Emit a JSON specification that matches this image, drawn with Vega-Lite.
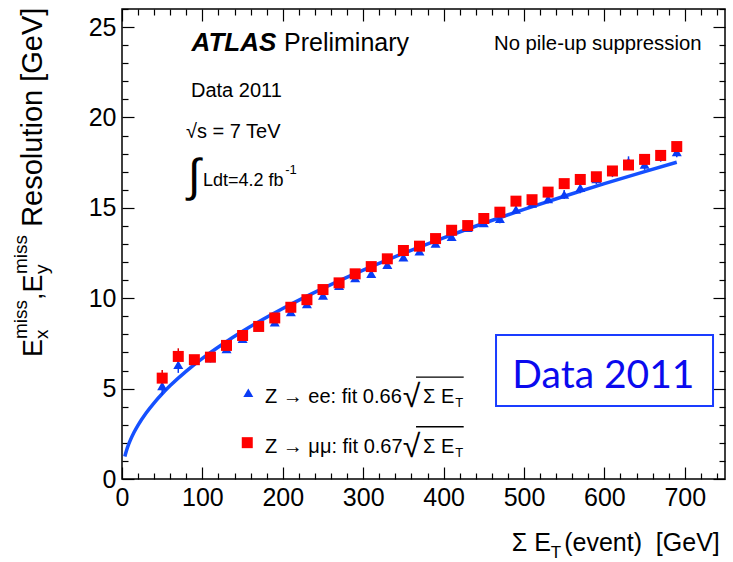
{
  "$schema": "https://vega.github.io/schema/vega-lite/v6.json",
  "width": 603,
  "height": 470,
  "autosize": {"type": "none"},
  "padding": {"left": 122, "top": 9, "right": 8, "bottom": 83},
  "background": "white",
  "config": {
    "view": {"stroke": "black", "strokeWidth": 1.5},
    "axis": {"labelFont": "Liberation Sans", "labelColor": "black", "tickColor": "black", "grid": false, "domain": false, "title": null, "tickWidth": 1.2},
    "text": {"font": "Liberation Sans", "color": "black", "baseline": "alphabetic", "align": "left"}
  },
  "datasets": {
    "fit": [
      {"x": 3.5, "fit": 1.248}, {"x": 6, "fit": 1.634}, {"x": 8, "fit": 1.887}, {"x": 10, "fit": 2.109},
      {"x": 15, "fit": 2.583}, {"x": 20, "fit": 2.983}, {"x": 30, "fit": 3.653}, {"x": 40, "fit": 4.218},
      {"x": 50, "fit": 4.716}, {"x": 60, "fit": 5.167}, {"x": 80, "fit": 5.966}, {"x": 100, "fit": 6.67},
      {"x": 125, "fit": 7.457}, {"x": 150, "fit": 8.169}, {"x": 175, "fit": 8.824}, {"x": 200, "fit": 9.433},
      {"x": 250, "fit": 10.546}, {"x": 300, "fit": 11.553}, {"x": 350, "fit": 12.479}, {"x": 400, "fit": 13.34},
      {"x": 450, "fit": 14.149}, {"x": 500, "fit": 14.915}, {"x": 550, "fit": 15.643}, {"x": 600, "fit": 16.338},
      {"x": 650, "fit": 17.005}, {"x": 690, "fit": 17.521}
    ],
    "ee": [
      {"x": 50, "y": 5.15, "err": 0.5}, {"x": 70, "y": 6.32, "err": 0.45}, {"x": 90, "y": 6.55, "err": 0.3},
      {"x": 110, "y": 6.7, "err": 0.25}, {"x": 130, "y": 7.2, "err": 0.2}, {"x": 150, "y": 7.76, "err": 0.2},
      {"x": 170, "y": 8.4, "err": 0.2}, {"x": 190, "y": 8.67, "err": 0.2}, {"x": 210, "y": 9.24, "err": 0.2},
      {"x": 230, "y": 9.68, "err": 0.2}, {"x": 250, "y": 10.16, "err": 0.2}, {"x": 270, "y": 10.7, "err": 0.2},
      {"x": 290, "y": 11.12, "err": 0.2}, {"x": 310, "y": 11.36, "err": 0.2}, {"x": 330, "y": 11.86, "err": 0.2},
      {"x": 350, "y": 12.27, "err": 0.2}, {"x": 370, "y": 12.6, "err": 0.2}, {"x": 390, "y": 13.03, "err": 0.2},
      {"x": 410, "y": 13.4, "err": 0.2}, {"x": 430, "y": 13.9, "err": 0.2}, {"x": 450, "y": 14.17, "err": 0.2},
      {"x": 470, "y": 14.4, "err": 0.25}, {"x": 490, "y": 14.91, "err": 0.25}, {"x": 510, "y": 15.25, "err": 0.25},
      {"x": 530, "y": 15.5, "err": 0.25}, {"x": 550, "y": 15.74, "err": 0.25}, {"x": 570, "y": 16.11, "err": 0.3},
      {"x": 590, "y": 16.6, "err": 0.3}, {"x": 610, "y": 17.0, "err": 0.3}, {"x": 630, "y": 17.55, "err": 0.3},
      {"x": 650, "y": 17.4, "err": 0.3}, {"x": 670, "y": 17.85, "err": 0.3}, {"x": 690, "y": 18.1, "err": 0.3}
    ],
    "mm": [
      {"x": 50, "y": 5.58, "err": 0.45}, {"x": 70, "y": 6.78, "err": 0.45}, {"x": 90, "y": 6.6, "err": 0.25},
      {"x": 110, "y": 6.74, "err": 0.2}, {"x": 130, "y": 7.39, "err": 0.2}, {"x": 150, "y": 7.94, "err": 0.2},
      {"x": 170, "y": 8.44, "err": 0.2}, {"x": 190, "y": 8.91, "err": 0.2}, {"x": 210, "y": 9.5, "err": 0.2},
      {"x": 230, "y": 9.92, "err": 0.2}, {"x": 250, "y": 10.48, "err": 0.2}, {"x": 270, "y": 10.85, "err": 0.2},
      {"x": 290, "y": 11.35, "err": 0.2}, {"x": 310, "y": 11.75, "err": 0.2}, {"x": 330, "y": 12.18, "err": 0.2},
      {"x": 350, "y": 12.64, "err": 0.2}, {"x": 370, "y": 12.88, "err": 0.2}, {"x": 390, "y": 13.3, "err": 0.2},
      {"x": 410, "y": 13.76, "err": 0.2}, {"x": 430, "y": 14.02, "err": 0.2}, {"x": 450, "y": 14.41, "err": 0.2},
      {"x": 470, "y": 14.76, "err": 0.2}, {"x": 490, "y": 15.37, "err": 0.2}, {"x": 510, "y": 15.45, "err": 0.2},
      {"x": 530, "y": 15.87, "err": 0.2}, {"x": 550, "y": 16.34, "err": 0.2}, {"x": 570, "y": 16.57, "err": 0.2},
      {"x": 590, "y": 16.72, "err": 0.2}, {"x": 610, "y": 17.04, "err": 0.2}, {"x": 630, "y": 17.37, "err": 0.2},
      {"x": 650, "y": 17.68, "err": 0.2}, {"x": 670, "y": 17.9, "err": 0.2}, {"x": 690, "y": 18.39, "err": 0.2}
    ]
  },
  "resolve": {"axis": {"x": "independent", "y": "independent"}},
  "layer": [
    {
      "data": {"name": "fit"},
      "mark": {"type": "line", "strokeOpacity": 0},
      "encoding": {
        "x": {"field": "x", "type": "quantitative", "scale": {"domain": [0, 750], "nice": false, "zero": false},
              "axis": {"orient": "bottom", "values": [0, 100, 200, 300, 400, 500, 600, 700], "ticks": false, "labelFontSize": 25, "labelPadding": 6, "labelFlush": false}},
        "y": {"field": "fit", "type": "quantitative", "scale": {"domain": [0, 26], "nice": false, "zero": false},
              "axis": {"orient": "left", "values": [0, 5, 10, 15, 20, 25], "ticks": false, "labelFontSize": 25, "labelPadding": 6, "labelFlush": false}}
      }
    },
    {
      "data": {"name": "fit"},
      "mark": {"type": "line", "strokeOpacity": 0},
      "encoding": {
        "x": {"field": "x", "type": "quantitative", "axis": {"orient": "bottom", "values": [0, 100, 200, 300, 400, 500, 600, 700], "labels": false, "tickSize": -12}},
        "y": {"field": "fit", "type": "quantitative", "axis": {"orient": "left", "values": [0, 5, 10, 15, 20, 25], "labels": false, "tickSize": -12}}
      }
    },
    {
      "data": {"name": "fit"},
      "mark": {"type": "line", "strokeOpacity": 0},
      "encoding": {
        "x": {"field": "x", "type": "quantitative", "axis": {"orient": "bottom", "values": [20, 40, 60, 80, 120, 140, 160, 180, 220, 240, 260, 280, 320, 340, 360, 380, 420, 440, 460, 480, 520, 540, 560, 580, 620, 640, 660, 680, 720, 740], "labels": false, "tickSize": -6}},
        "y": {"field": "fit", "type": "quantitative", "axis": {"orient": "left", "values": [1, 2, 3, 4, 6, 7, 8, 9, 11, 12, 13, 14, 16, 17, 18, 19, 21, 22, 23, 24, 26], "labels": false, "tickSize": -6}}
      }
    },
    {
      "data": {"name": "fit"},
      "mark": {"type": "line", "strokeOpacity": 0},
      "encoding": {
        "x": {"field": "x", "type": "quantitative", "axis": {"orient": "top", "values": [0, 100, 200, 300, 400, 500, 600, 700], "labels": false, "tickSize": -12}},
        "y": {"field": "fit", "type": "quantitative", "axis": {"orient": "right", "values": [0, 5, 10, 15, 20, 25], "labels": false, "tickSize": -12}}
      }
    },
    {
      "data": {"name": "fit"},
      "mark": {"type": "line", "strokeOpacity": 0},
      "encoding": {
        "x": {"field": "x", "type": "quantitative", "axis": {"orient": "top", "values": [20, 40, 60, 80, 120, 140, 160, 180, 220, 240, 260, 280, 320, 340, 360, 380, 420, 440, 460, 480, 520, 540, 560, 580, 620, 640, 660, 680, 720, 740], "labels": false, "tickSize": -6}},
        "y": {"field": "fit", "type": "quantitative", "axis": {"orient": "right", "values": [1, 2, 3, 4, 6, 7, 8, 9, 11, 12, 13, 14, 16, 17, 18, 19, 21, 22, 23, 24, 26], "labels": false, "tickSize": -6}}
      }
    },
    {
      "data": {"name": "fit"},
      "mark": {"type": "line", "color": "#1550ff", "strokeWidth": 3.5, "interpolate": "monotone"},
      "encoding": {
        "x": {"field": "x", "type": "quantitative", "axis": null},
        "y": {"field": "fit", "type": "quantitative", "axis": null}
      }
    },
    {
      "data": {"name": "ee"},
      "mark": {"type": "errorbar", "color": "#0a3cf5", "rule": {"strokeWidth": 1.5}},
      "encoding": {
        "x": {"field": "x", "type": "quantitative", "axis": null},
        "y": {"field": "y", "type": "quantitative", "axis": null},
        "yError": {"field": "err"}
      }
    },
    {
      "data": {"name": "mm"},
      "mark": {"type": "errorbar", "color": "#e00000", "rule": {"strokeWidth": 1.5}},
      "encoding": {
        "x": {"field": "x", "type": "quantitative", "axis": null},
        "y": {"field": "y", "type": "quantitative", "axis": null},
        "yError": {"field": "err"}
      }
    },
    {
      "data": {"name": "ee"},
      "mark": {"type": "point", "shape": "triangle-up", "filled": true, "color": "#0a3cf5", "size": 100, "opacity": 1},
      "encoding": {
        "x": {"field": "x", "type": "quantitative", "axis": null},
        "y": {"field": "y", "type": "quantitative", "axis": null}
      }
    },
    {
      "data": {"name": "mm"},
      "mark": {"type": "point", "shape": "square", "filled": true, "color": "#ff0000", "size": 121, "opacity": 1},
      "encoding": {
        "x": {"field": "x", "type": "quantitative", "axis": null},
        "y": {"field": "y", "type": "quantitative", "axis": null}
      }
    },
    {
      "data": {"values": [{"t": "ATLAS"}]},
      "mark": {"type": "text", "fontSize": 26, "fontWeight": "bold", "fontStyle": "italic"},
      "encoding": {"text": {"field": "t"}, "x": {"datum": 86.5, "type": "quantitative", "axis": null}, "y": {"datum": 23.68, "type": "quantitative", "axis": null}}
    },
    {
      "data": {"values": [{"t": "Preliminary"}]},
      "mark": {"type": "text", "fontSize": 25},
      "encoding": {"text": {"field": "t"}, "x": {"datum": 201.5, "type": "quantitative", "axis": null}, "y": {"datum": 23.68, "type": "quantitative", "axis": null}}
    },
    {
      "data": {"values": [{"t": "No pile-up suppression"}]},
      "mark": {"type": "text", "fontSize": 20.3},
      "encoding": {"text": {"field": "t"}, "x": {"datum": 462.7, "type": "quantitative", "axis": null}, "y": {"datum": 23.73, "type": "quantitative", "axis": null}}
    },
    {
      "data": {"values": [{"t": "Data 2011"}]},
      "mark": {"type": "text", "fontSize": 20},
      "encoding": {"text": {"field": "t"}, "x": {"datum": 85.8, "type": "quantitative", "axis": null}, "y": {"datum": 21.13, "type": "quantitative", "axis": null}}
    },
    {
      "data": {"values": [{"t": "√s = 7 TeV"}]},
      "mark": {"type": "text", "fontSize": 20},
      "encoding": {"text": {"field": "t"}, "x": {"datum": 79.6, "type": "quantitative", "axis": null}, "y": {"datum": 18.86, "type": "quantitative", "axis": null}}
    },
    {
      "data": {"values": [{"t": "∫"}]},
      "mark": {"type": "text", "fontSize": 46},
      "encoding": {"text": {"field": "t"}, "x": {"datum": 82.1, "type": "quantitative", "axis": null}, "y": {"datum": 15.93, "type": "quantitative", "axis": null}}
    },
    {
      "data": {"values": [{"t": "Ldt=4.2 fb"}]},
      "mark": {"type": "text", "fontSize": 18},
      "encoding": {"text": {"field": "t"}, "x": {"datum": 100.7, "type": "quantitative", "axis": null}, "y": {"datum": 16.21, "type": "quantitative", "axis": null}}
    },
    {
      "data": {"values": [{"t": "-1"}]},
      "mark": {"type": "text", "fontSize": 13},
      "encoding": {"text": {"field": "t"}, "x": {"datum": 203.0, "type": "quantitative", "axis": null}, "y": {"datum": 16.86, "type": "quantitative", "axis": null}}
    },
    {
      "data": {"values": [{"t": "ee"}]},
      "mark": {"type": "point", "shape": "triangle-up", "filled": true, "color": "#0a3cf5", "size": 100, "opacity": 1},
      "encoding": {"x": {"datum": 157.1, "type": "quantitative", "axis": null}, "y": {"datum": 4.77, "type": "quantitative", "axis": null}}
    },
    {
      "data": {"values": [{"t": "mm"}]},
      "mark": {"type": "point", "shape": "square", "filled": true, "color": "#ff0000", "size": 121, "opacity": 1},
      "encoding": {"x": {"datum": 155.8, "type": "quantitative", "axis": null}, "y": {"datum": 2.01, "type": "quantitative", "axis": null}}
    },
    {
      "data": {"values": [{"t": "Z → ee: fit 0.66"}]},
      "mark": {"type": "text", "fontSize": 20},
      "encoding": {"text": {"field": "t"}, "x": {"datum": 177.9, "type": "quantitative", "axis": null}, "y": {"datum": 4.2, "type": "quantitative", "axis": null}}
    },
    {
      "data": {"values": [{"t": "Z → μμ: fit 0.67"}]},
      "mark": {"type": "text", "fontSize": 20},
      "encoding": {"text": {"field": "t"}, "x": {"datum": 177.9, "type": "quantitative", "axis": null}, "y": {"datum": 1.45, "type": "quantitative", "axis": null}}
    },
    {
      "data": {"values": [{"t": "√"}]},
      "mark": {"type": "text", "fontSize": 32},
      "encoding": {"text": {"field": "t"}, "x": {"datum": 349.1, "type": "quantitative", "axis": null}, "y": {"datum": 3.98, "type": "quantitative", "axis": null}}
    },
    {
      "data": {"values": [{"t": "√"}]},
      "mark": {"type": "text", "fontSize": 32},
      "encoding": {"text": {"field": "t"}, "x": {"datum": 349.1, "type": "quantitative", "axis": null}, "y": {"datum": 1.22, "type": "quantitative", "axis": null}}
    },
    {
      "data": {"values": [{"t": "Σ E"}]},
      "mark": {"type": "text", "fontSize": 20},
      "encoding": {"text": {"field": "t"}, "x": {"datum": 374.4, "type": "quantitative", "axis": null}, "y": {"datum": 4.2, "type": "quantitative", "axis": null}}
    },
    {
      "data": {"values": [{"t": "Σ E"}]},
      "mark": {"type": "text", "fontSize": 20},
      "encoding": {"text": {"field": "t"}, "x": {"datum": 374.4, "type": "quantitative", "axis": null}, "y": {"datum": 1.45, "type": "quantitative", "axis": null}}
    },
    {
      "data": {"values": [{"t": "T"}]},
      "mark": {"type": "text", "fontSize": 13},
      "encoding": {"text": {"field": "t"}, "x": {"datum": 414.5, "type": "quantitative", "axis": null}, "y": {"datum": 3.97, "type": "quantitative", "axis": null}}
    },
    {
      "data": {"values": [{"t": "T"}]},
      "mark": {"type": "text", "fontSize": 13},
      "encoding": {"text": {"field": "t"}, "x": {"datum": 414.5, "type": "quantitative", "axis": null}, "y": {"datum": 1.2, "type": "quantitative", "axis": null}}
    },
    {
      "data": {"values": [{"t": "bar"}]},
      "mark": {"type": "rule", "color": "black", "strokeWidth": 1.3},
      "encoding": {"x": {"datum": 365.7, "type": "quantitative", "axis": null}, "x2": {"datum": 425.0}, "y": {"datum": 5.64, "type": "quantitative", "axis": null}}
    },
    {
      "data": {"values": [{"t": "bar"}]},
      "mark": {"type": "rule", "color": "black", "strokeWidth": 1.3},
      "encoding": {"x": {"datum": 365.7, "type": "quantitative", "axis": null}, "x2": {"datum": 425.0}, "y": {"datum": 2.89, "type": "quantitative", "axis": null}}
    },
    {
      "data": {"values": [{"t": "box"}]},
      "mark": {"type": "rect", "fill": "white", "stroke": "#1a3cff", "strokeWidth": 2},
      "encoding": {"x": {"datum": 465.2, "type": "quantitative", "axis": null}, "x2": {"datum": 735.1}, "y": {"datum": 7.97, "type": "quantitative", "axis": null}, "y2": {"datum": 4.04}}
    },
    {
      "data": {"values": [{"t": "Data 2011"}]},
      "mark": {"type": "text", "fontSize": 39, "font": "Lato", "align": "center", "color": "#0a0aee"},
      "encoding": {"text": {"field": "t"}, "x": {"datum": 598.8, "type": "quantitative", "axis": null}, "y": {"datum": 5.03, "type": "quantitative", "axis": null}}
    },
    {
      "data": {"values": [{"t": "Σ E"}]},
      "mark": {"type": "text", "fontSize": 25},
      "encoding": {"text": {"field": "t"}, "x": {"datum": 484.9, "type": "quantitative", "axis": null}, "y": {"datum": -3.98, "type": "quantitative", "axis": null}}
    },
    {
      "data": {"values": [{"t": "T"}]},
      "mark": {"type": "text", "fontSize": 17},
      "encoding": {"text": {"field": "t"}, "x": {"datum": 533.4, "type": "quantitative", "axis": null}, "y": {"datum": -4.37, "type": "quantitative", "axis": null}}
    },
    {
      "data": {"values": [{"t": "(event)\u00a0\u00a0[GeV]"}]},
      "mark": {"type": "text", "fontSize": 25, "align": "right"},
      "encoding": {"text": {"field": "t"}, "x": {"datum": 743.5, "type": "quantitative", "axis": null}, "y": {"datum": -3.98, "type": "quantitative", "axis": null}}
    },
    {
      "data": {"values": [{"t": "E"}]},
      "mark": {"type": "text", "fontSize": 27, "angle": 270},
      "encoding": {"text": {"field": "t"}, "x": {"datum": -99.5, "type": "quantitative", "axis": null}, "y": {"datum": 6.75, "type": "quantitative", "axis": null}}
    },
    {
      "data": {"values": [{"t": "x"}]},
      "mark": {"type": "text", "fontSize": 19, "angle": 270},
      "encoding": {"text": {"field": "t"}, "x": {"datum": -92.0, "type": "quantitative", "axis": null}, "y": {"datum": 7.74, "type": "quantitative", "axis": null}}
    },
    {
      "data": {"values": [{"t": "miss"}]},
      "mark": {"type": "text", "fontSize": 19, "angle": 270},
      "encoding": {"text": {"field": "t"}, "x": {"datum": -118.2, "type": "quantitative", "axis": null}, "y": {"datum": 7.74, "type": "quantitative", "axis": null}}
    },
    {
      "data": {"values": [{"t": ",E"}]},
      "mark": {"type": "text", "fontSize": 27, "angle": 270},
      "encoding": {"text": {"field": "t"}, "x": {"datum": -99.5, "type": "quantitative", "axis": null}, "y": {"datum": 9.9, "type": "quantitative", "axis": null}}
    },
    {
      "data": {"values": [{"t": "y"}]},
      "mark": {"type": "text", "fontSize": 19, "angle": 270},
      "encoding": {"text": {"field": "t"}, "x": {"datum": -92.0, "type": "quantitative", "axis": null}, "y": {"datum": 11.34, "type": "quantitative", "axis": null}}
    },
    {
      "data": {"values": [{"t": "miss"}]},
      "mark": {"type": "text", "fontSize": 19, "angle": 270},
      "encoding": {"text": {"field": "t"}, "x": {"datum": -118.2, "type": "quantitative", "axis": null}, "y": {"datum": 11.34, "type": "quantitative", "axis": null}}
    },
    {
      "data": {"values": [{"t": "Resolution [GeV]"}]},
      "mark": {"type": "text", "fontSize": 29, "angle": 270},
      "encoding": {"text": {"field": "t"}, "x": {"datum": -99.5, "type": "quantitative", "axis": null}, "y": {"datum": 13.95, "type": "quantitative", "axis": null}}
    }
  ]
}
